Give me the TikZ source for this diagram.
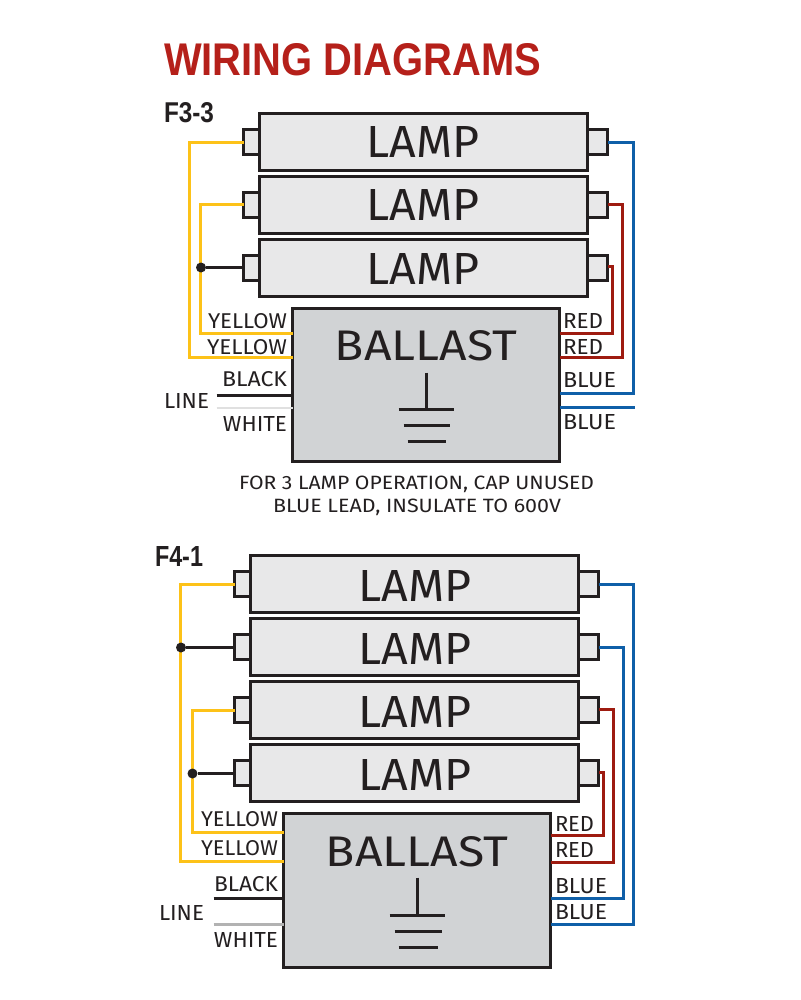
\documentclass[tikz,border=0pt]{standalone}
\usepackage{fontspec}
\usepackage{graphicx}
\setmainfont{Fira Sans}
\newfontfamily\headfont{Liberation Sans}[UprightFont=* Bold]
\definecolor{lampfill}{HTML}{E8E8E9}
\definecolor{ballastfill}{HTML}{D1D3D5}
\definecolor{ink}{HTML}{231F20}
\definecolor{wyellow}{HTML}{FDC218}
\definecolor{wred}{HTML}{9E1B10}
\definecolor{wblue}{HTML}{0F5FA8}
\definecolor{titlered}{HTML}{B5201A}
% text set to measured width and cap height
\newcommand{\fitto}[3]{\resizebox{#1pt}{#2pt}{#3}}
\tikzset{
  x=1pt,y=-1pt,
  lampbox/.style={draw=ink,line width=2.5pt,fill=lampfill,rectangle,minimum width=#1pt,minimum height=57pt,inner sep=0pt,outer sep=0pt,anchor=north west},
  pinbox/.style={draw=ink,line width=2.5pt,fill=lampfill,rectangle,minimum width=16pt,minimum height=25pt,inner sep=0pt,outer sep=0pt},
  ballastbox/.style={draw=ink,line width=2.5pt,fill=ballastfill,rectangle,minimum width=267pt,minimum height=#1pt,inner sep=0pt,outer sep=0pt,anchor=north west},
  lbl/.style={inner sep=0pt,outer sep=0pt,text=ink,xshift=-.5pt,yshift=.5pt},
  lblr/.style={lbl,anchor=base east},
  lbll/.style={lbl,anchor=base west},
  ywire/.style={draw=wyellow,line width=2.5pt},
  rwire/.style={draw=wred,line width=2.5pt},
  bwire/.style={draw=wblue,line width=2.5pt},
  kwire/.style={draw=ink,line width=2.2pt},
  gndline/.style={draw=ink,line width=2.2pt},
  junction/.style={circle,fill=ink,inner sep=0pt,outer sep=0pt,minimum size=10pt},
  dn/.style={yshift=-.5pt},
}
\newcommand{\lampword}[1]{\node[lbl,anchor=base] at #1 {\fitto{113}{31}{LAMP}};}
\begin{document}
\begin{tikzpicture}
\useasboundingbox (-0.5,-0.5) rectangle (799.5,999.5);
\fill[white] (-0.5,-0.5) rectangle (799.5,999.5);
\node[lbl,anchor=base west,text=titlered] (title) at (164,76) {\fitto{377}{32}{\headfont WIRING DIAGRAMS}};

% ---------- F3-3 ----------
\node[lbl,anchor=base west] (f33) at (164,123) {\fitto{50}{20}{\headfont F3-3}};
\node[lampbox=328] (a1) at (259,113) {};
\node[lampbox=328] (a2) at (259,176) {};
\node[lampbox=328] (a3) at (259,239) {};
\lampword{(423,158)}\lampword{(423,221)}\lampword{(423,284)}
\node[pinbox,anchor=east] (a1l) at (a1.west) {};
\node[pinbox,anchor=east] (a2l) at (a2.west) {};
\node[pinbox,anchor=east] (a3l) at (a3.west) {};
\node[pinbox,anchor=west,minimum width=20pt] (a1r) at (a1.east) {};
\node[pinbox,anchor=west,minimum width=20pt] (a2r) at (a2.east) {};
\node[pinbox,anchor=west,minimum width=20pt] (a3r) at (a3.east) {};
\node[ballastbox=153] (ba) at (292,308) {};
\node[lbl,anchor=base] at (426,360) {\fitto{182}{30}{BALLAST}};
\coordinate (ay1) at (292,333); \coordinate (ay2) at (292,357);
\coordinate (ar1) at (559,333); \coordinate (ar2) at (559,357);
\coordinate (ab1) at (559,393); \coordinate (ab2) at (559,407);
\coordinate (ab2e) at (634,407);
\coordinate (ak) at (292,395); \coordinate (akl) at (216,395);
\coordinate (aw) at (292,407); \coordinate (awl) at (216,407);
\draw[ywire] ([dn]a1l.west) -| (189,357) -- (ay2);
\draw[ywire] (a2l.west |- 0,204) -| (200,333) -- (ay1);
\node[junction] (aj) at (200.5,267) {};
\draw[kwire] (aj) -- (a3l.west |- aj);
\draw[rwire] (ar1) -| (612,266) -- (a3r.east |- 0,266);
\draw[rwire] (a2r.east |- 0,204) -| (622,357) -- (ar2);
\draw[bwire] ([dn]a1r.east) -| (633,393) -- (ab1);
\draw[bwire] (ab2) -- (ab2e);
\draw[kwire] (akl) -- (ak);
\draw[draw=black!12,line width=2pt] (awl) -- (aw);
\node[lblr] at (287,328) {\fitto{79}{15}{YELLOW}};
\node[lblr] at (287,354) {\fitto{80}{15}{YELLOW}};
\node[lblr] at (287,386) {\fitto{65}{15}{BLACK}};
\node[lblr] at (287,431) {\fitto{64}{15}{WHITE}};
\node[lbll] at (164,408) {\fitto{45}{15}{LINE}};
\node[lbll] at (563,328) {\fitto{40}{15}{RED}};
\node[lbll] at (563,354) {\fitto{40}{15}{RED}};
\node[lbll] at (563,387) {\fitto{53}{15}{BLUE}};
\node[lbll] at (563,429) {\fitto{53}{15}{BLUE}};
\draw[gndline] (426,372) -- (426,409);
\draw[gndline] (398,409) -- (453,409);
\draw[gndline] (403,425) -- (449,425);
\draw[gndline] (407,441) -- (445,441);
\node[lbl,anchor=base west] at (239,489) {\fitto{355}{13.5}{FOR 3 LAMP OPERATION, CAP UNUSED}};
\node[lbl,anchor=base west] at (273,512.5) {\fitto{288}{13.5}{BLUE LEAD, INSULATE TO 600V}};

% ---------- F4-1 ----------
\node[lbl,anchor=base west] (f41) at (155,566) {\fitto{48}{20}{\headfont F4-1}};
\node[lampbox=328] (c1) at (250,555) {};
\node[lampbox=328] (c2) at (250,618) {};
\node[lampbox=328] (c3) at (250,681) {};
\node[lampbox=328] (c4) at (250,744) {};
\lampword{(415,601)}\lampword{(415,664)}\lampword{(415,727)}\lampword{(415,790)}
\node[pinbox,anchor=east] (c1l) at (c1.west) {};
\node[pinbox,anchor=east] (c2l) at (c2.west) {};
\node[pinbox,anchor=east] (c3l) at (c3.west) {};
\node[pinbox,anchor=east] (c4l) at (c4.west) {};
\node[pinbox,anchor=west,minimum width=20pt] (c1r) at (c1.east) {};
\node[pinbox,anchor=west,minimum width=20pt] (c2r) at (c2.east) {};
\node[pinbox,anchor=west,minimum width=20pt] (c3r) at (c3.east) {};
\node[pinbox,anchor=west,minimum width=20pt] (c4r) at (c4.east) {};
\node[ballastbox=154] (bc) at (283,813) {};
\node[lbl,anchor=base] at (417,866) {\fitto{182}{30}{BALLAST}};
\coordinate (cy1) at (283,832); \coordinate (cy2) at (283,861);
\coordinate (cr1) at (550,835); \coordinate (cr2) at (550,862);
\coordinate (cb1) at (550,898); \coordinate (cb2) at (550,924);
\coordinate (ck) at (283,898); \coordinate (ckl) at (213,898);
\coordinate (cw) at (283,924); \coordinate (cwl) at (213,924);
\draw[ywire] ([dn]c1l.west) -| (180,861) -- (cy2);
\draw[ywire] ([dn]c3l.west) -| (192,832) -- (cy1);
\node[junction] (cj1) at (180.5,647) {};
\node[junction] (cj2) at (192,773) {};
\draw[kwire] (cj1) -- (c2l.west |- cj1);
\draw[kwire] (cj2) -- (c4l.west |- cj2);
\draw[rwire] (cr1) -| (603,772) -- (c4r.east |- 0,772);
\draw[rwire] (c3r.east |- 0,709) -| (613,862) -- (cr2);
\draw[bwire] ([dn]c2r.east) -| (623,898) -- (cb1);
\draw[bwire] ([dn]c1r.east) -| (633,924) -- (cb2);
\draw[draw=ink,line width=3pt] (ckl) -- (ck);
\draw[draw=black!30,line width=3pt] (cwl) -- (cw);
\node[lblr] at (278,826) {\fitto{77}{15}{YELLOW}};
\node[lblr] at (278,855) {\fitto{77}{15}{YELLOW}};
\node[lblr] at (278,891) {\fitto{64}{15}{BLACK}};
\node[lblr] at (278,947) {\fitto{64}{15}{WHITE}};
\node[lbll] at (159,920) {\fitto{45}{15}{LINE}};
\node[lbll] at (555,831) {\fitto{39}{15}{RED}};
\node[lbll] at (555,857) {\fitto{39}{15}{RED}};
\node[lbll] at (555,893) {\fitto{52}{15}{BLUE}};
\node[lbll] at (555,919) {\fitto{52}{15}{BLUE}};
\draw[gndline] (417,877) -- (417,915);
\draw[gndline] (389,915) -- (444.5,915);
\draw[gndline] (394,931) -- (441,931);
\draw[gndline] (398,947) -- (437,947);
\end{tikzpicture}
\end{document}
